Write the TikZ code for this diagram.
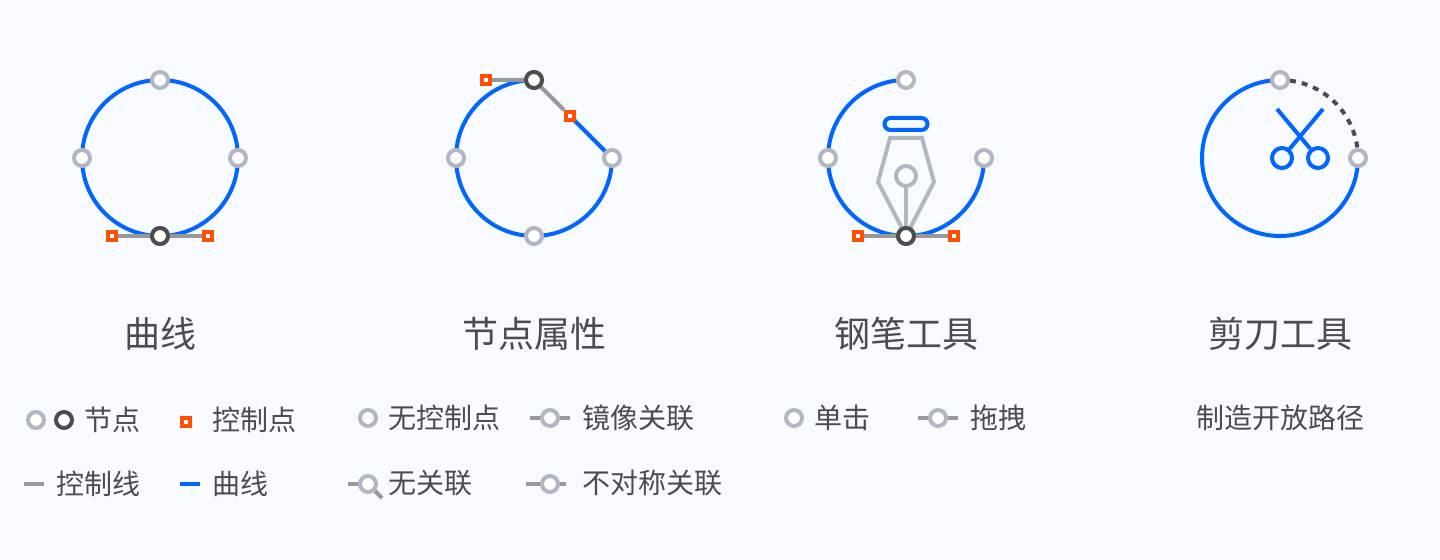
\documentclass[tikz,border=0pt]{standalone}
\usepackage{fontspec}
\setmainfont{Noto Sans CJK SC}
\usetikzlibrary{backgrounds}
\definecolor{pagebg}{HTML}{F7FAFF}
\definecolor{curveblue}{HTML}{0066FF}
\definecolor{nodegrey}{HTML}{B1B6C2}
\definecolor{nodedark}{HTML}{4A4C50}
\definecolor{ctrlgrey}{HTML}{999999}
\definecolor{ctrlorange}{HTML}{FF5000}
\tikzstyle{pt}=[draw=nodegrey,fill=white,circle,line width=2pt,minimum size=8pt,inner sep=0pt]
\tikzstyle{ptdark}=[pt,draw=nodedark]
\tikzstyle{ctrl}=[draw=ctrlorange,fill=white,rectangle,line width=2pt,minimum size=4pt,inner sep=0pt]
\tikzstyle{curveline}=[draw=curveblue,line width=2pt]
\tikzstyle{ctrlline}=[draw=ctrlgrey,line width=2pt]
\tikzstyle{penline}=[draw=nodegrey,line width=2pt,line join=miter]
\tikzstyle{title}=[text=nodedark,font=\fontsize{18pt}{20pt}\selectfont,inner sep=0pt]
\tikzstyle{legend}=[text=nodedark,font=\fontsize{14pt}{16pt}\selectfont,inner sep=0pt]

\begin{document}
\begin{tikzpicture}[x=0.5pt,y=-0.5pt]
	\useasboundingbox (0,0) rectangle (1440,560);
	\begin{scope}[on background layer]
		\fill[pagebg] (0,0) rectangle (1440,560);
	\end{scope}
	% four anchor points of each figure
	\foreach \nm/\cx in {A/160, B/534, C/906}{
		\node (\nm top)[pt] at (\cx,80) {};
		\node (\nm left)[pt] at (\cx-78,158) {};
		\node (\nm right)[pt] at (\cx+78,158) {};
		\node (\nm bot)[pt] at (\cx,236) {};
	}
	\node (Dtop)[pt] at (1280,80) {};
	\node (Dright)[pt] at (1358,158) {};
	\coordinate (Dleft) at (1202,158);
	\coordinate (Dbot) at (1280,236);
	\foreach \nm in {A, B, C}{
		\begin{scope}[on background layer]
			\draw[curveline] (\nm top.center) to[out=180,in=90] (\nm left.center);
			\draw[curveline] (\nm left.center) to[out=-90,in=180] (\nm bot.center);
			\draw[curveline] (\nm bot.center) to[out=0,in=-90] (\nm right.center);
		\end{scope}
	}
	% curve
	\node (Abot)[ptdark] at (160,236) {};
	\node (Ac1)[ctrl] at (112,236) {};
	\node (Ac2)[ctrl] at (208,236) {};
	\begin{scope}[on background layer]
		\draw[curveline] (Aright.center) to[out=90,in=0] (Atop.center);
		\draw[ctrlline] (Ac1) -- (Ac2);
	\end{scope}
	\node (Atitle)[title] at (160,334) {曲线};
	% node properties
	\node (Btop)[ptdark] at (534,80) {};
	\node (Bc1)[ctrl] at (486,80) {};
	\node (Bc2)[ctrl] at (570,116) {};
	\begin{scope}[on background layer]
		\draw[curveline] (Bright.center) -- (Bc2.center);
		\draw[ctrlline] (Bc1) -- (Btop.center) -- (Bc2);
	\end{scope}
	\node (Btitle)[title] at (534,334) {节点属性};
	% pen tool
	\node (Cbot)[ptdark] at (906,236) {};
	\node (Cc1)[ctrl] at (858,236) {};
	\node (Cc2)[ctrl] at (954,236) {};
	\node (Ccap)[draw=curveblue,line width=2pt,rectangle,rounded corners=3pt,minimum width=21.5pt,minimum height=6pt,inner sep=0pt] at (906,124) {};
	\node (Chole)[draw=nodegrey,line width=2pt,circle,minimum size=10pt,inner sep=0pt] at (906,176) {};
	\begin{scope}[on background layer]
		\draw[ctrlline] (Cc1) -- (Cc2);
		\draw[penline] (Cbot.center) -- (878,182) -- (890,138) -- (922,138) -- (934,182) -- cycle;
		\draw[penline] (Chole) -- (Cbot.center);
	\end{scope}
	\node (Ctitle)[title] at (906,334) {钢笔工具};
	% scissors tool
	\node (Dh1)[draw=curveblue,line width=2pt,circle,minimum size=10pt,inner sep=0pt] at (1282,158) {};
	\node (Dh2)[draw=curveblue,line width=2pt,circle,minimum size=10pt,inner sep=0pt] at (1318,158) {};
	\coordinate (Db1) at (1277,109);
	\coordinate (Db2) at (1323,109);
	\draw[curveline] (Db1) -- (Dh2);
	\draw[curveline] (Db2) -- (Dh1);
	\begin{scope}[on background layer]
		\draw[curveline] (Dtop.center) to[out=180,in=90] (Dleft);
		\draw[curveline] (Dleft) to[out=-90,in=180] (Dbot);
		\draw[curveline] (Dbot) to[out=0,in=-90] (Dright.center);
		\draw[draw=nodedark,line width=2pt,dash pattern=on 3pt off 3pt,dash phase=1pt] (Dtop.center) to[out=0,in=90] (Dright.center);
	\end{scope}
	\node (Dtitle)[title] at (1280,334) {剪刀工具};
	% legend, first group
	\node (l1a)[pt] at (36,420) {};
	\node (l1b)[ptdark] at (64,420) {};
	\node (l1t)[legend] at (112.5,420) {节点};
	\node (l2a)[ctrl] at (186,422) {};
	\node (l2t)[legend] at (254.5,420) {控制点};
	\coordinate (l3a) at (24,484);
	\coordinate (l3b) at (44,484);
	\draw[ctrlline] (l3a) -- (l3b);
	\node (l3t)[legend] at (98,484) {控制线};
	\coordinate (l4a) at (180,484);
	\coordinate (l4b) at (200,484);
	\draw[curveline] (l4a) -- (l4b);
	\node (l4t)[legend] at (240.5,484) {曲线};
	% legend, second group
	\node (m1a)[pt] at (368,418) {};
	\node (m1t)[legend] at (444,418) {无控制点};
	\node (m2a)[pt] at (550,418) {};
	\coordinate (m2l) at (530,418);
	\coordinate (m2r) at (570,418);
	\node (m2t)[legend] at (638,418) {镜像关联};
	\node (m3a)[pt] at (368,484) {};
	\coordinate (m3l) at (348,484);
	\coordinate (m3h) at (382,498);
	\node (m3t)[legend] at (430,483) {无关联};
	\node (m4a)[pt] at (550,484) {};
	\coordinate (m4l) at (526,484);
	\coordinate (m4r) at (566,484);
	\node (m4t)[legend] at (652,483) {不对称关联};
	\begin{scope}[on background layer]
		\draw[ctrlline] (m2l) -- (m2r);
		\draw[ctrlline] (m3l) -- (m3a.center);
		\draw[ctrlline] (m3a.center) -- (m3h);
		\draw[ctrlline] (m4l) -- (m4r);
	\end{scope}
	% legend, third group
	\node (n1a)[pt] at (794,418) {};
	\node (n1t)[legend] at (842.5,418) {单击};
	\node (n2a)[pt] at (938,418) {};
	\coordinate (n2l) at (918,418);
	\coordinate (n2r) at (958,418);
	\node (n2t)[legend] at (998,418) {拖拽};
	\begin{scope}[on background layer]
		\draw[ctrlline] (n2l) -- (n2r);
	\end{scope}
	\node (p1t)[legend] at (1280,418) {制造开放路径};
\end{tikzpicture}
\end{document}
